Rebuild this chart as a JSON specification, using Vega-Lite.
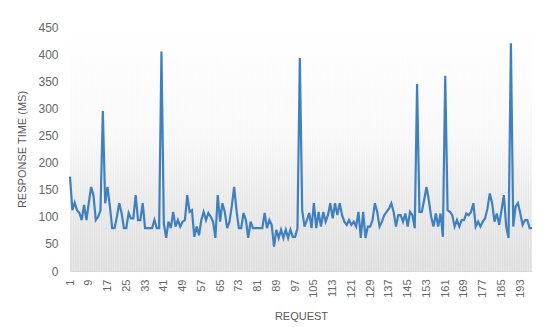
{
  "$schema": "https://vega.github.io/schema/vega-lite/v6.json",
  "width": 462,
  "height": 244,
  "autosize": {"type": "none"},
  "padding": {"left": 70, "top": 27, "right": 18, "bottom": 56},
  "background": "white",
  "config": {
    "view": {
      "stroke": null,
      "fill": {
        "gradient": "linear", "x1": 0, "y1": 0, "x2": 0, "y2": 1,
        "stops": [
          {"offset": 0, "color": "#ffffff"},
          {"offset": 0.45, "color": "#f8f8f8"},
          {"offset": 0.72, "color": "#e7e7e7"},
          {"offset": 1, "color": "#dbdbdb"}
        ]
      }
    },
    "font": "Liberation Sans",
    "axis": {"labelColor": "#666666", "titleColor": "#595959", "titleFontWeight": "normal", "labelFont": "Liberation Sans", "titleFont": "Liberation Sans", "labelOverlap": false, "labelBound": false},
    "axisX": {"labelOverlap": false},
    "axisY": {"labelOverlap": false}
  },
  "data": {
    "values": [
      {"request": 1, "ms": 174}, {"request": 2, "ms": 112}, {"request": 3, "ms": 126}, {"request": 4, "ms": 112}, {"request": 5, "ms": 107},
      {"request": 6, "ms": 94}, {"request": 7, "ms": 122}, {"request": 8, "ms": 94}, {"request": 9, "ms": 125}, {"request": 10, "ms": 155},
      {"request": 11, "ms": 140}, {"request": 12, "ms": 94}, {"request": 13, "ms": 100}, {"request": 14, "ms": 112}, {"request": 15, "ms": 295},
      {"request": 16, "ms": 125}, {"request": 17, "ms": 155}, {"request": 18, "ms": 119}, {"request": 19, "ms": 79}, {"request": 20, "ms": 79},
      {"request": 21, "ms": 100}, {"request": 22, "ms": 125}, {"request": 23, "ms": 107}, {"request": 24, "ms": 79}, {"request": 25, "ms": 79},
      {"request": 26, "ms": 107}, {"request": 27, "ms": 97}, {"request": 28, "ms": 97}, {"request": 29, "ms": 140}, {"request": 30, "ms": 94},
      {"request": 31, "ms": 94}, {"request": 32, "ms": 125}, {"request": 33, "ms": 79}, {"request": 34, "ms": 79}, {"request": 35, "ms": 79},
      {"request": 36, "ms": 79}, {"request": 37, "ms": 94}, {"request": 38, "ms": 79}, {"request": 39, "ms": 79}, {"request": 40, "ms": 405},
      {"request": 41, "ms": 88}, {"request": 42, "ms": 61}, {"request": 43, "ms": 91}, {"request": 44, "ms": 79}, {"request": 45, "ms": 109},
      {"request": 46, "ms": 82}, {"request": 47, "ms": 94}, {"request": 48, "ms": 82}, {"request": 49, "ms": 91}, {"request": 50, "ms": 94},
      {"request": 51, "ms": 140}, {"request": 52, "ms": 109}, {"request": 53, "ms": 112}, {"request": 54, "ms": 63}, {"request": 55, "ms": 82},
      {"request": 56, "ms": 66}, {"request": 57, "ms": 94}, {"request": 58, "ms": 109}, {"request": 59, "ms": 94}, {"request": 60, "ms": 107},
      {"request": 61, "ms": 100}, {"request": 62, "ms": 91}, {"request": 63, "ms": 61}, {"request": 64, "ms": 140}, {"request": 65, "ms": 91},
      {"request": 66, "ms": 125}, {"request": 67, "ms": 109}, {"request": 68, "ms": 79}, {"request": 69, "ms": 91}, {"request": 70, "ms": 120},
      {"request": 71, "ms": 155}, {"request": 72, "ms": 112}, {"request": 73, "ms": 79}, {"request": 74, "ms": 79}, {"request": 75, "ms": 107},
      {"request": 76, "ms": 94}, {"request": 77, "ms": 61}, {"request": 78, "ms": 91}, {"request": 79, "ms": 79}, {"request": 80, "ms": 79},
      {"request": 81, "ms": 79}, {"request": 82, "ms": 79}, {"request": 83, "ms": 79}, {"request": 84, "ms": 107}, {"request": 85, "ms": 79},
      {"request": 86, "ms": 94}, {"request": 87, "ms": 85}, {"request": 88, "ms": 45}, {"request": 89, "ms": 76}, {"request": 90, "ms": 61},
      {"request": 91, "ms": 76}, {"request": 92, "ms": 61}, {"request": 93, "ms": 76}, {"request": 94, "ms": 61}, {"request": 95, "ms": 76},
      {"request": 96, "ms": 63}, {"request": 97, "ms": 63}, {"request": 98, "ms": 79}, {"request": 99, "ms": 393}, {"request": 100, "ms": 112},
      {"request": 101, "ms": 82}, {"request": 102, "ms": 94}, {"request": 103, "ms": 107}, {"request": 104, "ms": 79}, {"request": 105, "ms": 125},
      {"request": 106, "ms": 79}, {"request": 107, "ms": 109}, {"request": 108, "ms": 82}, {"request": 109, "ms": 109}, {"request": 110, "ms": 91},
      {"request": 111, "ms": 103}, {"request": 112, "ms": 125}, {"request": 113, "ms": 97}, {"request": 114, "ms": 125}, {"request": 115, "ms": 103},
      {"request": 116, "ms": 125}, {"request": 117, "ms": 103}, {"request": 118, "ms": 91}, {"request": 119, "ms": 85}, {"request": 120, "ms": 94},
      {"request": 121, "ms": 85}, {"request": 122, "ms": 91}, {"request": 123, "ms": 82}, {"request": 124, "ms": 109}, {"request": 125, "ms": 61},
      {"request": 126, "ms": 109}, {"request": 127, "ms": 61}, {"request": 128, "ms": 82}, {"request": 129, "ms": 82}, {"request": 130, "ms": 94},
      {"request": 131, "ms": 125}, {"request": 132, "ms": 109}, {"request": 133, "ms": 82}, {"request": 134, "ms": 91}, {"request": 135, "ms": 103},
      {"request": 136, "ms": 109}, {"request": 137, "ms": 115}, {"request": 138, "ms": 125}, {"request": 139, "ms": 109}, {"request": 140, "ms": 82},
      {"request": 141, "ms": 103}, {"request": 142, "ms": 103}, {"request": 143, "ms": 91}, {"request": 144, "ms": 106}, {"request": 145, "ms": 82},
      {"request": 146, "ms": 109}, {"request": 147, "ms": 103}, {"request": 148, "ms": 79}, {"request": 149, "ms": 345}, {"request": 150, "ms": 109},
      {"request": 151, "ms": 109}, {"request": 152, "ms": 131}, {"request": 153, "ms": 155}, {"request": 154, "ms": 131}, {"request": 155, "ms": 100},
      {"request": 156, "ms": 82}, {"request": 157, "ms": 106}, {"request": 158, "ms": 82}, {"request": 159, "ms": 106}, {"request": 160, "ms": 63},
      {"request": 161, "ms": 360}, {"request": 162, "ms": 112}, {"request": 163, "ms": 109}, {"request": 164, "ms": 103}, {"request": 165, "ms": 82},
      {"request": 166, "ms": 94}, {"request": 167, "ms": 82}, {"request": 168, "ms": 94}, {"request": 169, "ms": 94}, {"request": 170, "ms": 106},
      {"request": 171, "ms": 103}, {"request": 172, "ms": 109}, {"request": 173, "ms": 125}, {"request": 174, "ms": 82}, {"request": 175, "ms": 91},
      {"request": 176, "ms": 82}, {"request": 177, "ms": 91}, {"request": 178, "ms": 97}, {"request": 179, "ms": 115}, {"request": 180, "ms": 143},
      {"request": 181, "ms": 125}, {"request": 182, "ms": 91}, {"request": 183, "ms": 106}, {"request": 184, "ms": 85}, {"request": 185, "ms": 112},
      {"request": 186, "ms": 140}, {"request": 187, "ms": 82}, {"request": 188, "ms": 61}, {"request": 189, "ms": 420}, {"request": 190, "ms": 82},
      {"request": 191, "ms": 119}, {"request": 192, "ms": 125}, {"request": 193, "ms": 106}, {"request": 194, "ms": 85}, {"request": 195, "ms": 94},
      {"request": 196, "ms": 94}, {"request": 197, "ms": 79}, {"request": 198, "ms": 79}
    ]
  },
  "encoding": {
    "x": {
      "field": "request", "type": "quantitative",
      "scale": {"domain": [1, 198], "nice": false, "zero": false},
      "axis": {
        "title": "REQUEST", "titleFontSize": 11, "titlePadding": 13,
        "values": [1, 9, 17, 25, 33, 41, 49, 57, 65, 73, 81, 89, 97, 105, 113, 121, 129, 137, 145, 153, 161, 169, 177, 185, 193],
        "labelAngle": -90, "labelFontSize": 11, "labelPadding": 8, "ticks": false,
        "grid": false, "domainColor": "#d9d9d9", "labelOverlap": false
      }
    }
  },
  "layer": [
    {
      "mark": {"type": "rule", "color": "#ffffff", "strokeWidth": 1, "opacity": 0.4},
      "encoding": {}
    },
    {
      "mark": {"type": "line", "color": "#3f80c1", "strokeWidth": 2.2, "strokeJoin": "miter"},
      "encoding": {
        "y": {
          "field": "ms", "type": "quantitative",
          "scale": {"domain": [0, 450], "nice": false},
          "axis": {
            "title": "RESPONSE TIME (MS)", "titleFontSize": 11, "titlePadding": 10,
            "values": [0, 50, 100, 150, 200, 250, 300, 350, 400, 450],
            "labelFontSize": 12, "labelPadding": 12, "ticks": false, "domain": false, "grid": false, "labelOverlap": false
          }
        }
      }
    }
  ]
}
